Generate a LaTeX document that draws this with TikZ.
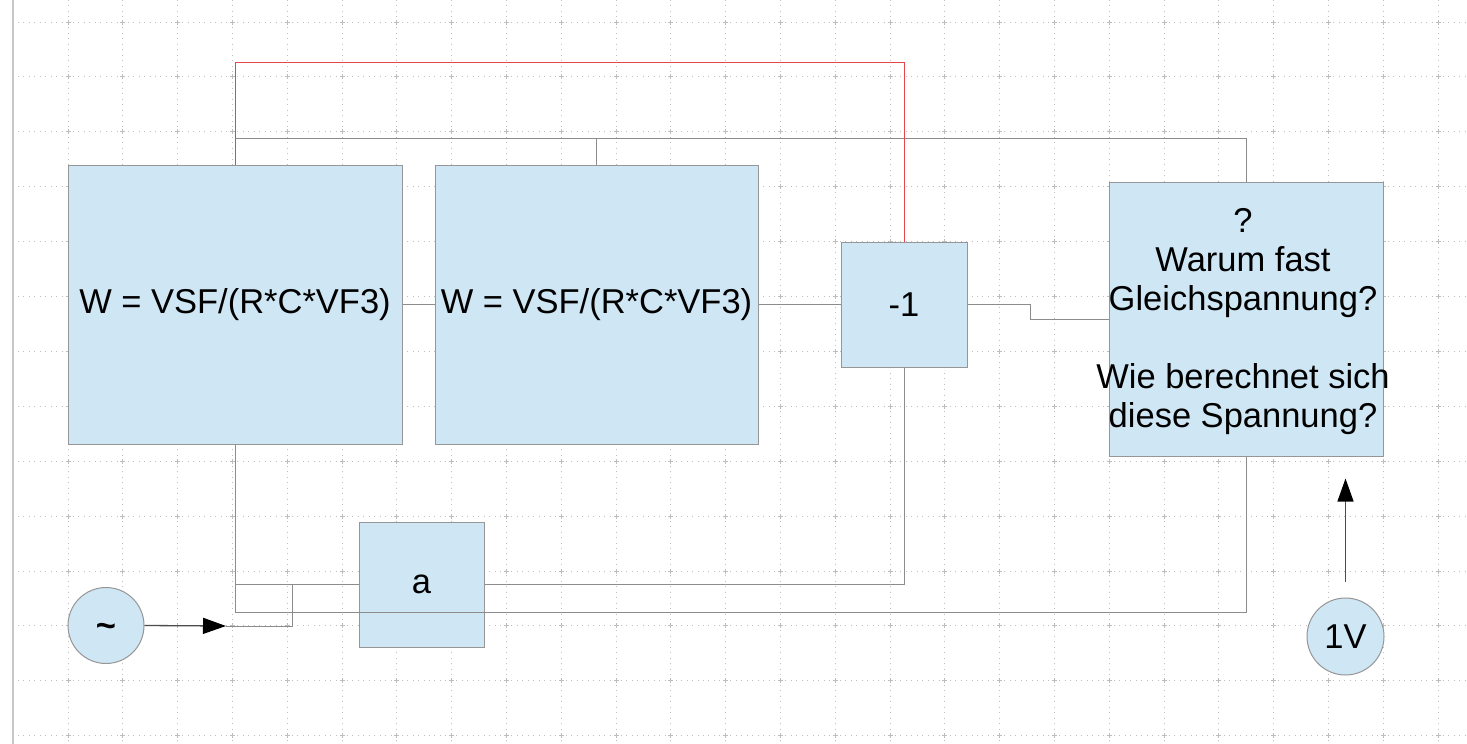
\documentclass[tikz,border=0pt]{standalone}
\usepackage{fontspec}
\setmainfont{Liberation Sans}
\usetikzlibrary{arrows.meta}
\definecolor{boxfill}{RGB}{207,230,244}
\definecolor{boxline}{RGB}{150,150,150}
\definecolor{wire}{RGB}{140,140,140}
\definecolor{redwire}{RGB}{232,70,70}
\definecolor{gridc}{RGB}{190,190,190}
\tikzset{
  txt/.style={inner sep=0pt, font=\fontsize{34.5}{39}\selectfont, align=center},
  blk/.style={txt, draw=boxline, fill=boxfill, line width=1pt},
  src/.style={blk, circle},
  wireline/.style={draw=wire, line width=1pt},
  redline/.style={draw=redwire, line width=0.9pt},
  arr/.style={draw=black!70, line width=1.3pt, -{Triangle[length=23pt,width=16pt,color=black,fill=black]}},
  gridline/.style={draw=gridc, line width=0.9pt, dash pattern=on 0.9pt off 4.58pt},
}
\begin{document}
\begin{tikzpicture}[x=1pt,y=-1pt]
\useasboundingbox (0,0) rectangle (1467,744);
\fill[white] (0,0) rectangle (1467,744);
% grid
\foreach \k in {0,...,25} {
  \draw[gridline] (68+54.8*\k,0) -- (68+54.8*\k,744);
}
\foreach \j in {0,...,13} {
  \draw[gridline] (18,22+54.9*\j) -- (1467,22+54.9*\j);
}
\foreach \k in {0,...,25} {
  \foreach \j in {0,...,13} {
    \draw[draw=gridc, line width=0.9pt] (68+54.8*\k-2.5,22+54.9*\j) -- ++(5,0) (68+54.8*\k,22+54.9*\j-2.5) -- ++(0,5);
  }
}
\draw[draw=black!22, line width=1.8pt] (13,0) -- (13,744);

% nodes
\node[blk, minimum width=334pt, minimum height=279pt] (b1) at (235,304.5) {W = VSF/(R*C*VF3)};
\node[blk, minimum width=323pt, minimum height=279pt] (b2) at (596.5,304.5) {W = VSF/(R*C*VF3)};
\node[blk, minimum width=126pt, minimum height=125pt] (m) at (904,304.5) {-1};
\node[blk, minimum width=274pt, minimum height=274pt] (q) at (1246,319) {};
\node[txt] (qt) at (1243,322) {?\\Warum fast\\Gleichspannung?\\[39pt]Wie berechnet sich\\diese Spannung?};
\node[blk, minimum width=125pt, minimum height=125pt] (a) at (421.5,584.5) {a};
\node[src, minimum size=76pt] (ac) at (106,625.5) {};
\node[txt, font=\bfseries\fontsize{34.5}{39}\selectfont] (act) at (106,630) {\textasciitilde};
\node[src, minimum size=77pt] (v1) at (1345.5,636.5) {1V};

\coordinate (topred) at (0,62);
\coordinate (topgray) at (0,138);
\coordinate (lowbus) at (0,612);
\coordinate (tip) at (226,626);
\coordinate (jog) at (292,626);

% connectors
\draw[wireline] (b1.north |- topgray) -| (q.north);
\draw[redline] (b1.north) -- (b1.north |- topred) -| (m.north);
\draw[wireline] (b2.north) -- (b2.north |- topgray);
\draw[wireline] (b1.east) -- (b2.west);
\draw[wireline] (b2.east) -- (m.west);
\draw[wireline] (m.east) -- ++(63,0) |- (q.west);
\draw[wireline] (m.south) |- (a.east);
\draw[wireline] (b1.south) -- (b1.south |- lowbus) -| (q.south);
\draw[wireline] (b1.south |- a.west) -- (a.west);
\draw[wireline] (tip) -- (jog) -- (jog |- a.west);
\draw[arr] (ac.east) -- (tip);
\draw[arr] ([yshift=16pt]v1.north) -- ([yshift=-22pt]v1.north |- q.south);
\end{tikzpicture}
\end{document}
